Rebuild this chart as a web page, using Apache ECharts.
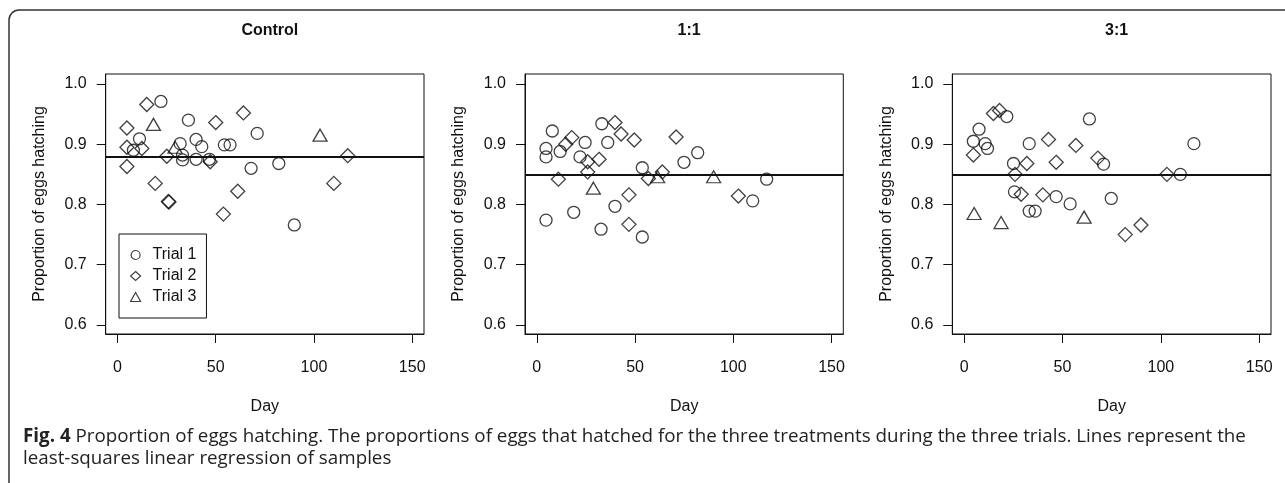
<!DOCTYPE html>
<html>
<head>
<meta charset="utf-8">
<script src="https://cdn.jsdelivr.net/npm/echarts@6/dist/echarts.min.js"></script>
<style>
  html, body { margin: 0; padding: 0; background: #fff; }
  #chart { width: 1285px; height: 483px; }
</style>
</head>
<body>
<div id="chart"></div>
<script>
// panel titles and axis ticks
const panelTitles = ['Control', '1:1', '3:1'];
const xTicks = [0, 50, 100, 150];
const yTicks = [0.6, 0.7, 0.8, 0.9, 1.0];
const trialNames = ['Trial 1', 'Trial 2', 'Trial 3'];

// least-squares fit level for each panel (flat lines)
const fitLevels = [0.88, 0.85, 0.85];

// [day, proportion hatching]
const controlTrial1 = [[22.1, 0.971], [36.1, 0.940], [11.2, 0.909], [8.1, 0.890], [31.9, 0.901], [33.1, 0.882], [33.1, 0.874],
  [40.0, 0.908], [42.9, 0.896], [40.0, 0.875], [46.8, 0.875], [54.4, 0.899], [57.3, 0.899], [71.1, 0.918], [68.0, 0.860],
  [82.1, 0.868], [90.0, 0.766]];
const controlTrial2 = [[14.9, 0.966], [4.8, 0.927], [4.8, 0.895], [12.4, 0.893], [4.8, 0.863], [25.1, 0.880], [50.0, 0.936],
  [64.1, 0.952], [47.2, 0.871], [19.2, 0.835], [61.2, 0.822], [117.2, 0.881], [110.1, 0.835], [25.9, 0.805], [26.2, 0.804],
  [53.9, 0.784]];
const controlTrial3 = [[18.3, 0.933], [29.3, 0.895], [103.1, 0.915]];

const oneOneTrial1 = [[7.9, 0.922], [4.7, 0.893], [4.7, 0.879], [11.9, 0.888], [24.6, 0.903], [22.0, 0.879], [33.1, 0.934],
  [36.1, 0.903], [53.7, 0.861], [74.9, 0.870], [81.9, 0.886], [117.0, 0.842], [109.9, 0.806], [4.7, 0.774], [18.8, 0.787],
  [32.7, 0.759], [39.8, 0.797], [53.7, 0.746]];
const oneOneTrial2 = [[17.8, 0.911], [14.7, 0.900], [39.8, 0.936], [42.9, 0.917], [49.6, 0.907], [70.9, 0.912], [25.9, 0.871],
  [31.7, 0.875], [25.9, 0.854], [11.0, 0.842], [56.8, 0.843], [63.9, 0.854], [46.9, 0.816], [102.6, 0.814], [46.9, 0.767]];
const oneOneTrial3 = [[28.8, 0.827], [61.5, 0.846], [90.0, 0.846]];

const threeOneTrial1 = [[21.7, 0.946], [7.6, 0.925], [4.7, 0.905], [10.7, 0.901], [11.9, 0.893], [63.7, 0.942], [33.1, 0.901],
  [25.1, 0.868], [70.9, 0.867], [109.9, 0.850], [116.8, 0.901], [25.6, 0.821], [46.8, 0.813], [53.9, 0.801], [74.8, 0.810],
  [33.1, 0.789], [36.1, 0.789]];
const threeOneTrial2 = [[14.9, 0.951], [18.0, 0.956], [4.7, 0.882], [42.9, 0.908], [56.8, 0.898], [31.9, 0.868], [46.8, 0.870],
  [68.0, 0.877], [25.9, 0.850], [103.1, 0.850], [29.0, 0.817], [40.0, 0.816], [81.9, 0.750], [89.9, 0.766]];
const threeOneTrial3 = [[5.1, 0.785], [18.8, 0.770], [61.0, 0.779]];

const panels = [
  [controlTrial1, controlTrial2, controlTrial3],
  [oneOneTrial1, oneOneTrial2, oneOneTrial3],
  [threeOneTrial1, threeOneTrial2, threeOneTrial3]
];

const FONT = '"Liberation Sans", Arial, sans-serif';
const CAPTION_FONT = '"Open Sans", "Noto Sans", sans-serif';
const INK = '#111';
const symbols = ['circle', 'diamond', 'triangle'];
const symbolSizes = [12, 14, [14, 12]];
const gridBoxes = [
  { left: 105.7, top: 74, width: 318.3, height: 260 },
  { left: 525, top: 74, width: 318.3, height: 260 },
  { left: 952.3, top: 74, width: 318.7, height: 260 }
];

const chart = echarts.init(document.getElementById('chart'), null, { renderer: 'canvas' });

const xAxes = gridBoxes.map((_, i) => ({
  type: 'value', gridIndex: i, min: -6, max: 156,
  name: 'Day', nameLocation: 'middle', nameGap: 65,
  nameTextStyle: { fontFamily: FONT, fontSize: 16, color: INK },
  axisLine: { show: true, onZero: false, lineStyle: { color: INK, width: 1 } },
  axisTick: { show: true, length: 9, customValues: xTicks, lineStyle: { color: INK } },
  axisLabel: { customValues: xTicks, margin: 26, fontFamily: FONT, fontSize: 16, color: INK },
  splitLine: { show: false }
}));

const yAxes = gridBoxes.map((_, i) => ({
  type: 'value', gridIndex: i, min: 0.585, max: 1.0166,
  name: 'Proportion of eggs hatching', nameLocation: 'middle', nameGap: 58, nameRotate: 90,
  nameTextStyle: { fontFamily: FONT, fontSize: 16, color: INK },
  axisLine: { show: true, onZero: false, lineStyle: { color: INK, width: 1 } },
  axisTick: { show: true, length: 9, customValues: yTicks, lineStyle: { color: INK } },
  axisLabel: { customValues: yTicks, margin: 19, fontFamily: FONT, fontSize: 16, color: INK,
    formatter: v => v.toFixed(1) },
  splitLine: { show: false }
}));

const series = [];
panels.forEach((trials, p) => {
  trials.forEach((pts, t) => {
    series.push({
      name: trialNames[t],
      type: 'scatter',
      xAxisIndex: p, yAxisIndex: p,
      symbol: symbols[t],
      symbolSize: symbolSizes[t],
      itemStyle: { color: 'rgba(255,255,255,0)', borderColor: INK, borderWidth: 1.3 },
      emphasis: { disabled: true },
      data: pts,
      markLine: t === 0 ? {
        silent: true, symbol: 'none', animation: false,
        label: { show: false },
        lineStyle: { color: INK, width: 2, type: 'solid' },
        data: [{ yAxis: fitLevels[p] }]
      } : undefined
    });
  });
});

const titles = panelTitles.map((txt, i) => ({
  text: txt,
  left: gridBoxes[i].left + gridBoxes[i].width / 2,
  top: 18,
  textAlign: 'center',
  textStyle: { fontFamily: FONT, fontSize: 16, fontWeight: 'bold', color: INK }
}));

titles.push({
  text: '{b|Fig. 4} Proportion of eggs hatching. The proportions of eggs that hatched for the three treatments during the three trials. Lines represent the\nleast-squares linear regression of samples',
  left: 23,
  top: 426,
  padding: 0,
  textStyle: {
    fontFamily: CAPTION_FONT, fontSize: 18.8, fontWeight: 'normal',
    color: '#222', lineHeight: 22,
    rich: { b: { fontFamily: CAPTION_FONT, fontSize: 18.8, fontWeight: 'bold', color: '#222', lineHeight: 22 } }
  }
});

const legendIcons = ['circle', 'diamond', 'triangle'];

chart.setOption({
  animation: false,
  backgroundColor: '#fff',
  title: titles,
  grid: gridBoxes.map(b => ({ ...b, show: true, borderColor: INK, borderWidth: 1, containLabel: false })),
  xAxis: xAxes,
  yAxis: yAxes,
  legend: {
    data: trialNames.map((n, i) => ({
      name: n,
      icon: legendIcons[i],
      itemStyle: { color: '#fff', borderColor: INK, borderWidth: 1.2 }
    })),
    orient: 'vertical',
    left: 119, top: 234,
    itemWidth: 10, itemHeight: 9, itemGap: 5,
    padding: [13, 10, 13, 11],
    borderColor: INK, borderWidth: 1,
    selectedMode: false,
    textStyle: { fontFamily: FONT, fontSize: 16, color: INK, lineHeight: 16, padding: [0, 0, 0, 7] }
  },
  graphic: [{
    type: 'rect',
    silent: true,
    shape: { x: 9, y: 10, width: 1300, height: 500, r: 10 },
    style: { fill: 'none', stroke: '#333', lineWidth: 1.5 }
  }],
  series: series
});
</script>
</body>
</html>
